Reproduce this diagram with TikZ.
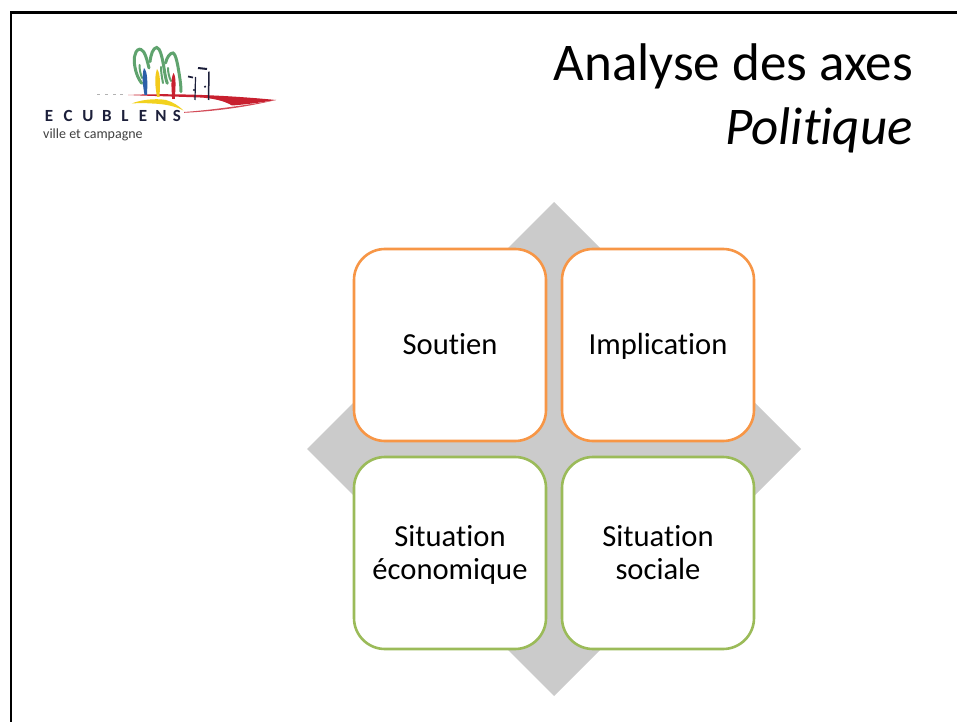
\documentclass[tikz,border=0pt]{standalone}
\usepackage{fontspec}
\setmainfont[Ligatures=NoCommon]{Carlito}
\definecolor{orangeb}{HTML}{F79646}
\definecolor{greenb}{HTML}{9BBB59}
\definecolor{diam}{HTML}{CBCBCB}
\definecolor{logored}{HTML}{C8202F}
\definecolor{logogreen}{HTML}{5FA36E}
\definecolor{logoblue}{HTML}{2B5FA8}
\definecolor{logoyellow}{HTML}{F2D21F}
\definecolor{logonavy}{HTML}{1C1F3A}
\newcommand\cardstrut{\rule[-6.5bp]{0pt}{32.5bp}}
\tikzset{
 card/.style={rectangle,rounded corners=31bp,minimum width=192bp,minimum height=192bp,fill=white,line width=2.6bp,align=center,inner sep=0pt,font=\fontsize{30.6bp}{32.5bp}\selectfont},
 orangecard/.style={card,draw=orangeb},
 greencard/.style={card,draw=greenb},
 titletext/.style={anchor=base east,inner sep=0pt,font=\fontsize{53bp}{60bp}\selectfont},
 tree/.style={draw=logogreen,line width=3bp,line cap=round},
 post/.style={draw=logonavy,line width=1.2bp},
 logoletter/.style={inner sep=0pt,anchor=base,text=logonavy,font=\fontsize{17bp}{17bp}\selectfont\bfseries}
}
\begin{document}
\begin{tikzpicture}[x=1bp,y=-1bp]
\useasboundingbox (0,0) rectangle (957,722);
\fill[white] (0,0) rectangle (957,722);
% frame
\draw[black,line width=2.6bp] (11,722) -- (11,12.5) -- (957,12.5);
% diamond
\fill[diam] (554,202) -- (801,449) -- (554,696) -- (307,449) -- cycle;
% cards
\node[orangecard] (soutien) at (450,345) {\cardstrut Soutien};
\node[orangecard] (impl) at (658,345) {\cardstrut Implication};
\node[greencard] (eco) at (450,553) {\cardstrut Situation\\\cardstrut économique};
\node[greencard] (soc) at (658,553) {\cardstrut Situation\\\cardstrut sociale};
% title
\node[titletext] (t1) at (913,81) {Analyse des axes};
\node[titletext] (t2) at (913,144.5) {\itshape Politique};
% logo: trees
\draw[tree] (141.7,83.3) .. controls (135,75) and (133,60) .. (135,55) .. controls (136,50) and (139,48.5) .. (141,49.5) .. controls (145,51) and (147,60) .. (149,68);
\draw[tree] (150,61.7) .. controls (151,54) and (153,48) .. (156.7,47.5) .. controls (160,48) and (162,56) .. (164,68) .. controls (165,75) and (166,80) .. (167.3,83.3);
\draw[tree] (165.5,63) .. controls (167,57) and (170,53) .. (173,53) .. controls (176,54) and (178,66) .. (179.5,76) .. controls (180.5,82) and (181,87) .. (181,91.7);
\draw[tree,line width=2bp] (161,67) .. controls (161,72) and (162,78) .. (163,83);
\draw[tree,line width=2bp] (168,68) .. controls (168,72) and (169,77) .. (171,81);
\draw[tree,line width=2bp] (139.5,65) .. controls (139.5,70) and (140.5,74) .. (142,78);
% logo: swoosh
\fill[logored] (128,95) .. controls (170,93) and (225,95) .. (276,100) .. controls (258,103) and (245,104.5) .. (232,105.5) .. controls (225,101) and (212,98) .. (200,97.5) .. controls (175,96.5) and (150,96) .. (128,95) -- cycle;
\fill[logored!80] (184,112) .. controls (205,110.5) and (235,107) .. (276,100) .. controls (240,108.5) and (210,111.5) .. (184,112.8) -- cycle;
\foreach \dx in {97,105,113,120} \fill[gray!60] (\dx,94.5) rectangle ++(3,1);
% logo: figures
\fill[logoblue] (144,68) .. controls (148,72) and (147.5,84) .. (147,95) -- (144.5,95) .. controls (143,86) and (141.5,76) .. (144,68) -- cycle;
\fill[logoyellow!90!orange] (157,69) .. controls (161,74) and (160,86) .. (159.5,97) -- (157,97) .. controls (155.5,88) and (154,78) .. (157,69) -- cycle;
\fill[logored] (173.5,73) .. controls (176.5,77) and (175.5,88) .. (174.8,99) -- (172.2,99) .. controls (171.5,88) and (170.5,79) .. (173.5,73) -- cycle;
% logo: yellow arc
\fill[logoyellow] (131.7,103.5) .. controls (140,100) and (155,98) .. (166,100) .. controls (173,102) and (179,106) .. (183.5,110.5) .. controls (175,106) and (165,104) .. (152,103.5) .. controls (145,103) and (138,103) .. (131.7,103.5) -- cycle;
% logo: posts
\draw[post] (195.5,77) -- (195,100);
\draw[post,line width=1.5bp] (209,71.7) -- (208.5,100);
\draw[post,line width=1.7bp] (188,76.5) -- (193,77.5);
\draw[post,line width=2bp] (198,68) -- (207,69);
\fill[logonavy] (194,90) circle (1.2);
\fill[logonavy] (205,86.7) circle (1.2);
% logo: text
\foreach \ch/\px in {E/49,C/68,U/88,B/107,L/125,E/143,N/161,S/177}
  \node[logoletter] (l\px) at (\px,122) {\ch};
\node[inner sep=0pt,anchor=base west,text=black!75,font=\fontsize{14bp}{15bp}\selectfont] (ville) at (43,139) {ville et campagne};
\end{tikzpicture}
\end{document}
